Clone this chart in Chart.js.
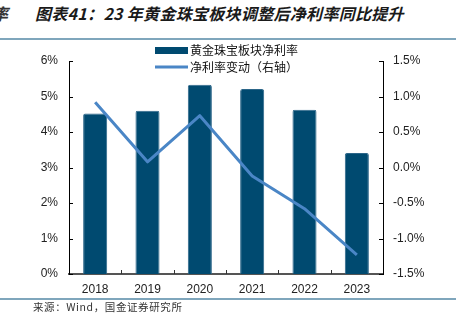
<!DOCTYPE html>
<html>
<head>
<meta charset="utf-8">
<script src="https://cdn.jsdelivr.net/npm/chart.js@4.4.1/dist/chart.umd.min.js"></script>
<style>
  html, body { margin: 0; padding: 0; background: #fff; }
  body { width: 456px; height: 328px; position: relative; overflow: hidden; }
  #wrap { position: absolute; left: 0; top: 0; width: 456px; height: 328px; }
  .title { position: absolute; top: 1px; left: 35px; font: italic bold 16px "Noto Sans CJK SC", sans-serif; color: #1a1a1a; white-space: nowrap; letter-spacing: 0.3px; }
  .frag { position: absolute; top: 1px; left: -8px; font: italic bold 16px "Noto Sans CJK SC", sans-serif; color: #333; }
  .rule { position: absolute; left: 0; width: 456px; height: 1.5px; background: #7fa6bc; }
  .source { position: absolute; left: 33px; top: 299px; font: 10.5px "Noto Sans CJK SC", sans-serif; color: #333; white-space: nowrap; letter-spacing: 0.6px; }
</style>
</head>
<body>
<div class="frag">率</div>
<div class="title">图表41：23 年黄金珠宝板块调整后净利率同比提升</div>
<div class="rule" style="top:38px"></div>
<div id="wrap"><canvas id="c" width="456" height="328"></canvas></div>
<div class="rule" style="top:298px"></div>
<div class="source">来源：Wind，国金证券研究所</div>
<script>
// Years on the x axis
const years = ['2018', '2019', '2020', '2021', '2022', '2023'];
// Net margin of the gold & jewellery sector (%), left axis
const netMargin = [4.52, 4.60, 5.33, 5.21, 4.63, 3.41];
// Year-on-year change of the net margin (pct points), right axis
const marginChange = [0.92, 0.08, 0.73, -0.12, -0.58, -1.23];
// Axis ranges and legend names
const leftTicks = { min: 0, max: 6, step: 1 };
const rightTicks = { min: -1.5, max: 1.5, step: 0.5 };
const seriesNames = ['黄金珠宝板块净利率', '净利率变动（右轴）'];

const BAR_COLOR = '#004a70';
const LINE_COLOR = '#4a86c6';
const LABEL_FONT = { family: '"Liberation Sans", Arial, sans-serif', size: 12 };

// Short tick marks pointing into the plot area, plus the legend box
const decorations = {
  id: 'decorations',
  afterDraw(chart) {
    const ctx = chart.ctx;
    const a = chart.chartArea;
    const yL = chart.scales.yL, yR = chart.scales.yR, x = chart.scales.x;
    ctx.save();
    ctx.strokeStyle = '#000';
    ctx.lineWidth = 1;
    yL.ticks.forEach(t => {
      const y = Math.round(yL.getPixelForValue(t.value)) + 0.5;
      ctx.beginPath(); ctx.moveTo(a.left, y); ctx.lineTo(a.left + 4, y); ctx.stroke();
    });
    yR.ticks.forEach(t => {
      const y = Math.round(yR.getPixelForValue(t.value)) + 0.5;
      ctx.beginPath(); ctx.moveTo(a.right, y); ctx.lineTo(a.right - 4, y); ctx.stroke();
    });
    ctx.strokeStyle = '#333';
    for (let i = 1; i < years.length; i++) {
      const px = Math.round((x.getPixelForValue(i - 1) + x.getPixelForValue(i)) / 2) + 0.5;
      ctx.beginPath(); ctx.moveTo(px, a.bottom); ctx.lineTo(px, a.bottom - 4); ctx.stroke();
    }
    // legend
    ctx.fillStyle = BAR_COLOR;
    ctx.fillRect(155, 47, 33, 7);
    ctx.strokeStyle = LINE_COLOR;
    ctx.lineWidth = 3;
    ctx.beginPath(); ctx.moveTo(155, 67); ctx.lineTo(188, 67); ctx.stroke();
    ctx.fillStyle = '#111';
    ctx.font = '12px "Noto Sans CJK SC", sans-serif';
    ctx.textBaseline = 'middle';
    ctx.fillText(seriesNames[0], 190, 50.5);
    ctx.fillText(seriesNames[1], 190, 67.5);
    ctx.restore();
  }
};

new Chart(document.getElementById('c'), {
  data: {
    labels: years,
    datasets: [
      {
        type: 'line', label: seriesNames[1], data: marginChange, yAxisID: 'yR',
        borderColor: LINE_COLOR, borderWidth: 3, pointRadius: 0, tension: 0, order: 0,
        borderCapStyle: 'butt', borderJoinStyle: 'round'
      },
      {
        type: 'bar', label: seriesNames[0], data: netMargin, yAxisID: 'yL',
        backgroundColor: BAR_COLOR, borderColor: '#2c6689', borderWidth: 1,
        borderRadius: 2, borderSkipped: 'bottom',
        barPercentage: 0.46, categoryPercentage: 1, order: 1
      }
    ]
  },
  options: {
    responsive: false,
    animation: false,
    devicePixelRatio: 1,
    layout: { padding: { top: 61, left: 0, right: 0, bottom: 0 } },
    plugins: { legend: { display: false }, tooltip: { enabled: false } },
    scales: {
      x: {
        type: 'category', offset: true,
        grid: { display: false, drawTicks: false },
        border: { display: true, color: '#555', width: 2 },
        ticks: { color: '#222', font: LABEL_FONT, padding: 8, maxRotation: 0 },
        afterFit(s) { s.height = 54; }
      },
      yL: {
        type: 'linear', position: 'left', min: leftTicks.min, max: leftTicks.max,
        grid: { display: false, drawTicks: false },
        border: { display: true, color: '#000', width: 1 },
        ticks: { stepSize: leftTicks.step, color: '#222', font: LABEL_FONT, padding: 11,
                 callback: v => v + '%' },
        afterFit(s) { s.width = 69; }
      },
      yR: {
        type: 'linear', position: 'right', min: rightTicks.min, max: rightTicks.max,
        grid: { display: false, drawTicks: false },
        border: { display: true, color: '#000', width: 1 },
        ticks: { stepSize: rightTicks.step, color: '#222', font: LABEL_FONT, padding: 10,
                 callback: v => v.toFixed(1) + '%' },
        afterFit(s) { s.width = 73; }
      }
    }
  },
  plugins: [decorations]
});
</script>
</body>
</html>
